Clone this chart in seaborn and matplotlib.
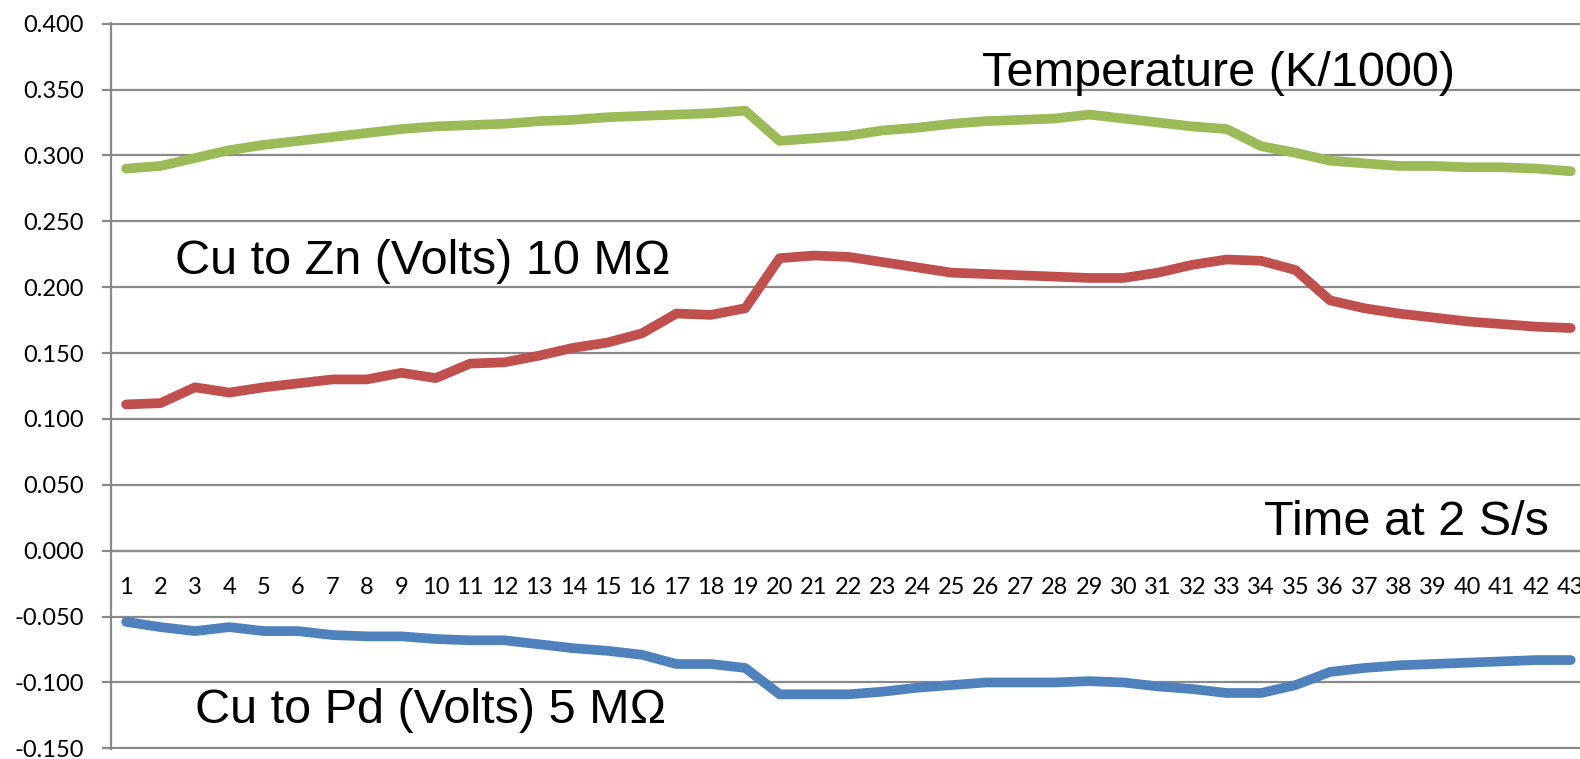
import numpy as np
import pandas as pd
import matplotlib
matplotlib.use("Agg")
import matplotlib.pyplot as plt
from matplotlib.ticker import FixedLocator
import seaborn as sns

# sample index (time at 2 S/s)
time = list(range(1, 44))

# Temperature (K/1000)
temperature = [0.290, 0.292, 0.298, 0.304, 0.308, 0.311, 0.314, 0.317, 0.320, 0.322,
               0.323, 0.324, 0.326, 0.327, 0.329, 0.330, 0.331, 0.332, 0.334, 0.311,
               0.313, 0.315, 0.319, 0.321, 0.324, 0.326, 0.327, 0.328, 0.331, 0.328,
               0.325, 0.322, 0.320, 0.307, 0.302, 0.296, 0.294, 0.292, 0.292, 0.291,
               0.291, 0.290, 0.288]

# Cu to Zn (Volts) 10 MOhm
cu_zn = [0.111, 0.112, 0.124, 0.120, 0.124, 0.127, 0.130, 0.130, 0.135, 0.131,
         0.142, 0.143, 0.148, 0.154, 0.158, 0.165, 0.180, 0.179, 0.184, 0.222,
         0.224, 0.223, 0.219, 0.215, 0.211, 0.210, 0.209, 0.208, 0.207, 0.207,
         0.211, 0.217, 0.221, 0.220, 0.213, 0.190, 0.184, 0.180, 0.177, 0.174,
         0.172, 0.170, 0.169]

# Cu to Pd (Volts) 5 MOhm
cu_pd = [-0.054, -0.058, -0.061, -0.058, -0.061, -0.061, -0.064, -0.065, -0.065, -0.067,
         -0.068, -0.068, -0.071, -0.074, -0.076, -0.079, -0.086, -0.086, -0.089, -0.109,
         -0.109, -0.109, -0.107, -0.104, -0.102, -0.100, -0.100, -0.100, -0.099, -0.100,
         -0.103, -0.105, -0.108, -0.108, -0.102, -0.092, -0.089, -0.087, -0.086, -0.085,
         -0.084, -0.083, -0.083]

y_ticks = [-0.15, -0.10, -0.05, 0.0, 0.05, 0.10, 0.15, 0.20, 0.25, 0.30, 0.35, 0.40]

sns.set_style("white")
plt.rcParams['font.family'] = ['Liberation Sans', 'DejaVu Sans']

grid_col = '#8a8a8a'

fig = plt.figure(figsize=(15.8, 7.59), dpi=100)
# plot area: y=0.400 at 23 px from top, y=-0.150 at 749 px from top
ax = fig.add_axes([111 / 1580, (759 - 749) / 759, 1 - 111 / 1580, (749 - 23) / 759])

line_kw = dict(linewidth=7, solid_capstyle='round', solid_joinstyle='round', ax=ax)
sns.lineplot(x=time, y=temperature, color='#9bbb59', **line_kw)
sns.lineplot(x=time, y=cu_zn, color='#c0504d', **line_kw)
sns.lineplot(x=time, y=cu_pd, color='#4f81bd', **line_kw)

ax.set_xlim(0.56, 43.27)
ax.set_ylim(-0.1505, 0.4005)

# y axis
ax.set_yticks(y_ticks)
ax.set_yticklabels([f"{v:.3f}" for v in y_ticks], family=['Lato', 'DejaVu Sans'])
ax.grid(axis='y', color=grid_col, linewidth=1.6)
ax.set_axisbelow(True)

# category axis drawn at y = 0
for s in ['top', 'right']:
    ax.spines[s].set_visible(False)
ax.spines['left'].set_color(grid_col)
ax.spines['left'].set_linewidth(1.6)
ax.spines['bottom'].set_position(('data', 0))
ax.spines['bottom'].set_color(grid_col)
ax.spines['bottom'].set_linewidth(1.6)

ax.set_xticks(time)
ax.set_xticklabels([str(t) for t in time], family=['Lato', 'DejaVu Sans'])
ax.xaxis.set_minor_locator(FixedLocator([t + 0.5 for t in time]))
ax.tick_params(axis='x', which='major', length=0, pad=19, labelsize=17, colors='black')
ax.tick_params(axis='x', which='minor', length=6, width=1.6, color=grid_col, direction='out')
ax.tick_params(axis='y', which='major', length=6.5, width=1.6, color=grid_col,
               direction='out', labelsize=17, labelcolor='black', pad=13, left=True)

# series labels
txt_kw = dict(fontsize=35, color='black', ha='left', va='baseline')
ax.text(25.88, 0.3525, 'Temperature (K/1000)', **txt_kw)
ax.text(2.41, 0.2100, 'Cu to Zn (Volts) 10 MΩ', **txt_kw)
ax.text(34.08, 0.0121, 'Time at 2 S/s', **txt_kw)
ax.text(3.0, -0.131, 'Cu to Pd (Volts) 5 MΩ', **txt_kw)

ax.set_xlabel('')
ax.set_ylabel('')

fig.savefig('out.png', dpi=100)
